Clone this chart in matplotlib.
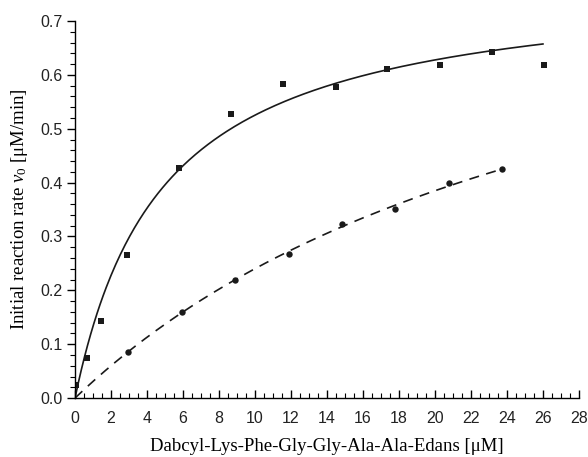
import numpy as np
import matplotlib
matplotlib.use("Agg")
import matplotlib.pyplot as plt
from matplotlib.ticker import MultipleLocator, FormatStrFormatter

# substrate concentration [uM] and initial rates [uM/min]
x_sq = [0.07, 0.68, 1.43, 2.87, 5.78, 8.67, 11.57, 14.48, 17.35, 20.26, 23.15, 26.06]
y_sq = [0.025, 0.074, 0.143, 0.265, 0.428, 0.527, 0.584, 0.577, 0.611, 0.619, 0.643, 0.618]

x_ci = [2.93, 5.93, 8.91, 11.87, 14.81, 17.8, 20.78, 23.7]
y_ci = [0.085, 0.160, 0.219, 0.267, 0.324, 0.351, 0.399, 0.426]

# Michaelis-Menten fit parameters (Vmax, Km)
vmax_sq, km_sq = 0.780, 4.85
vmax_ci, km_ci = 0.968, 30.3

plt.rcParams["mathtext.fontset"] = "custom"
plt.rcParams["mathtext.rm"] = "Liberation Serif"
plt.rcParams["mathtext.it"] = "Liberation Serif:italic"

fig = plt.figure(figsize=(5.88, 4.57), dpi=100)
ax = fig.add_axes([0.1276, 0.129, 0.857, 0.825])

xs = np.linspace(0, 26.0, 300)
ax.plot(xs, vmax_sq * xs / (km_sq + xs), color="#1a1a1a", lw=1.2)
xc = np.linspace(0, 23.7, 300)
ax.plot(xc, vmax_ci * xc / (km_ci + xc), color="#1a1a1a", lw=1.2, dashes=(6, 4.5))

ax.plot(x_sq, y_sq, "s", color="#1a1a1a", ms=4.2, mew=0)
ax.plot(x_ci, y_ci, "o", color="#1a1a1a", ms=4.6, mew=0)

ax.set_xlim(0, 28)
ax.set_ylim(0, 0.7)
ax.spines["top"].set_visible(False)
ax.spines["right"].set_visible(False)
for s in ("left", "bottom"):
    ax.spines[s].set_linewidth(1.0)

ax.xaxis.set_major_locator(MultipleLocator(2))
ax.xaxis.set_minor_locator(MultipleLocator(0.5))
ax.yaxis.set_major_locator(MultipleLocator(0.1))
ax.yaxis.set_minor_locator(MultipleLocator(0.02))
ax.yaxis.set_major_formatter(FormatStrFormatter("%.1f"))

ax.tick_params(axis="x", which="major", direction="in", length=6, width=1.0, pad=9.5)
ax.tick_params(axis="x", which="minor", direction="in", length=3.5, width=0.8)
ax.tick_params(axis="y", which="major", direction="out", length=6, width=1.0, pad=3)
ax.tick_params(axis="y", which="minor", direction="out", length=3.5, width=0.8)
for lab in ax.get_xticklabels() + ax.get_yticklabels():
    lab.set_fontfamily("Liberation Sans")
    lab.set_fontsize(11.5)
    lab.set_color("#222222")

ax.set_xlabel("Dabcyl-Lys-Phe-Gly-Gly-Ala-Ala-Edans [\u03bcM]",
              fontfamily="Liberation Serif", fontsize=13.5, labelpad=8.5)
ax.set_ylabel("Initial reaction rate $v_0$ [\u03bcM/min]",
              fontfamily="Liberation Serif", fontsize=13.5, labelpad=7)

fig.savefig("out.png", dpi=100)
